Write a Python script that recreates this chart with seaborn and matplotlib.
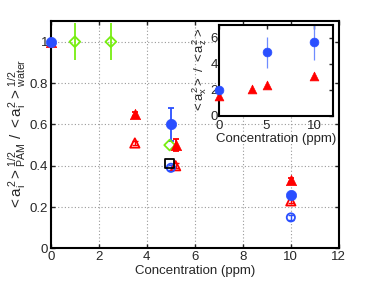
import matplotlib
matplotlib.use("Agg")
import matplotlib.pyplot as plt
import seaborn as sns
import pandas as pd

# ---- data (main axes) ----
blue_f_x = [0, 5, 10]
blue_f_y = [1.0, 0.60, 0.26]
blue_f_err = [0.0, 0.08, 0.0]

blue_o_x = [5, 10]
blue_o_y = [0.39, 0.15]

red_f_x = [0, 3.5, 5.2, 10]
red_f_y = [1.0, 0.65, 0.50, 0.33]
red_f_err = [0.0, 0.01, 0.03, 0.01]

red_o_x = [3.5, 5.2, 10]
red_o_y = [0.51, 0.40, 0.23]

green_x = [1, 2.5, 4.95]
green_y = [1.0, 1.0, 0.50]
green_err = [0.09, 0.09, 0.0]

black_x = [4.95]
black_y = [0.41]

# ---- data (inset) ----
in_blue_x = [0, 5, 10]
in_blue_y = [2.0, 4.9, 5.7]
in_blue_err = [0.0, 1.2, 1.4]
in_red_x = [0, 3.5, 5, 10]
in_red_y = [1.55, 2.05, 2.35, 3.05]
in_red_err = [0.0, 0.0, 0.0, 0.1]

main_xticks = [0, 2, 4, 6, 8, 10, 12]
main_yticks = [0, 0.2, 0.4, 0.6, 0.8, 1]
main_yticklabels = ["0", "0.2", "0.4", "0.6", "0.8", "1"]
in_xticks = [0, 5, 10]
in_yticks = [0, 2, 4, 6]

BLUE = "#2a4fff"
RED = "#ff0000"
GREEN = "#77ee11"

sns.set_style("white")
plt.rcParams["font.family"] = ["Liberation Sans", "DejaVu Sans"]
plt.rcParams["mathtext.fontset"] = "custom"
plt.rcParams["mathtext.rm"] = "Liberation Sans"
plt.rcParams["mathtext.it"] = "Liberation Sans"
plt.rcParams["mathtext.bf"] = "Liberation Sans"

fig = plt.figure(figsize=(3.74, 2.81), dpi=100)
ax = fig.add_axes([0.136, 0.116, 0.770, 0.809])

def err(a, x, y, e, c, lw=1.2, cap=2):
    a.errorbar(x, y, yerr=e, fmt="none", ecolor=c, elinewidth=lw, capsize=cap,
               capthick=lw, zorder=2, clip_on=False)

# error bars
err(ax, green_x, green_y, green_err, GREEN, 1.3, 0)
err(ax, blue_f_x, blue_f_y, blue_f_err, BLUE, 1.3, 2)
err(ax, red_f_x, red_f_y, red_f_err, RED, 1.3, 2)
err(ax, red_o_x, red_o_y, [0.012] * 3, RED, 1.0, 2)
err(ax, blue_o_x, blue_o_y, [0.012] * 2, BLUE, 1.0, 2)

sns.scatterplot(x=green_x, y=green_y, ax=ax, marker="D", s=30, facecolor="none",
                edgecolor=GREEN, linewidth=1.3, zorder=3, clip_on=False)
sns.scatterplot(x=red_o_x, y=red_o_y, ax=ax, marker="^", s=45, facecolor="none",
                edgecolor=RED, linewidth=1.3, zorder=3, clip_on=False)
sns.scatterplot(x=blue_o_x, y=blue_o_y, ax=ax, marker="o", s=35, facecolor="none",
                edgecolor=BLUE, linewidth=1.3, zorder=3, clip_on=False)
sns.scatterplot(x=black_x, y=black_y, ax=ax, marker="s", s=45, facecolor="none",
                edgecolor="black", linewidth=1.3, zorder=4, clip_on=False)
sns.scatterplot(x=red_f_x, y=red_f_y, ax=ax, marker="^", s=55, color=RED,
                edgecolor=RED, linewidth=0.5, zorder=5, clip_on=False)
sns.scatterplot(x=blue_f_x, y=blue_f_y, ax=ax, marker="o", s=55, color=BLUE,
                edgecolor=BLUE, linewidth=0.5, zorder=6, clip_on=False)

ax.set_xlim(0, 12)
ax.set_ylim(0, 1.1)
ax.set_xticks(main_xticks)
ax.set_xticklabels([str(t) for t in main_xticks])
ax.set_yticks(main_yticks)
ax.set_yticklabels(main_yticklabels)
ax.grid(True, linestyle=(0, (1, 2)), color="#999999", linewidth=0.8)
ax.tick_params(direction="in", length=3, width=1, labelsize=9.5, top=True, right=True,
               bottom=True, left=True, pad=2)
for s in ax.spines.values():
    s.set_linewidth(1.5)
    s.set_color("black")
    s.set_zorder(2.5)
ax.set_xlabel("Concentration (ppm)", fontsize=9.5, labelpad=1)
ax.set_ylabel(r"$<a_i^2>^{1/2}_{PAM}$ / $<a_i^2>^{1/2}_{water}$", fontsize=11, labelpad=1)

# inset
ins = fig.add_axes([0.586, 0.588, 0.304, 0.323])
ins.set_facecolor("white")
err(ins, in_blue_x, in_blue_y, in_blue_err, "#6f8cff", 0.9, 0)
err(ins, in_red_x, in_red_y, in_red_err, RED, 0.9, 0)
sns.scatterplot(x=in_red_x, y=in_red_y, ax=ins, marker="^", s=40, color=RED,
                edgecolor=RED, linewidth=0.5, zorder=3, clip_on=False)
sns.scatterplot(x=in_blue_x, y=in_blue_y, ax=ins, marker="o", s=40, color=BLUE,
                edgecolor=BLUE, linewidth=0.5, zorder=4, clip_on=False)
ins.set_xlim(0, 12)
ins.set_ylim(0, 7)
ins.set_xticks(in_xticks)
ins.set_xticklabels([str(t) for t in in_xticks])
ins.set_yticks(in_yticks)
ins.set_yticklabels([str(t) for t in in_yticks])
ins.grid(False)
ins.tick_params(direction="in", length=3, width=1, labelsize=9.5, top=True, right=True,
                pad=3)
ins.tick_params(axis="y", pad=1)
for s in ins.spines.values():
    s.set_linewidth(1.5)
    s.set_color("black")
ins.set_xlabel("Concentration (ppm)", fontsize=9.5, labelpad=1)
ins.set_ylabel(r"$<a_x^2>$ / $<a_z^2>$", fontsize=9.5, labelpad=1)

fig.savefig("out.png", dpi=100)
